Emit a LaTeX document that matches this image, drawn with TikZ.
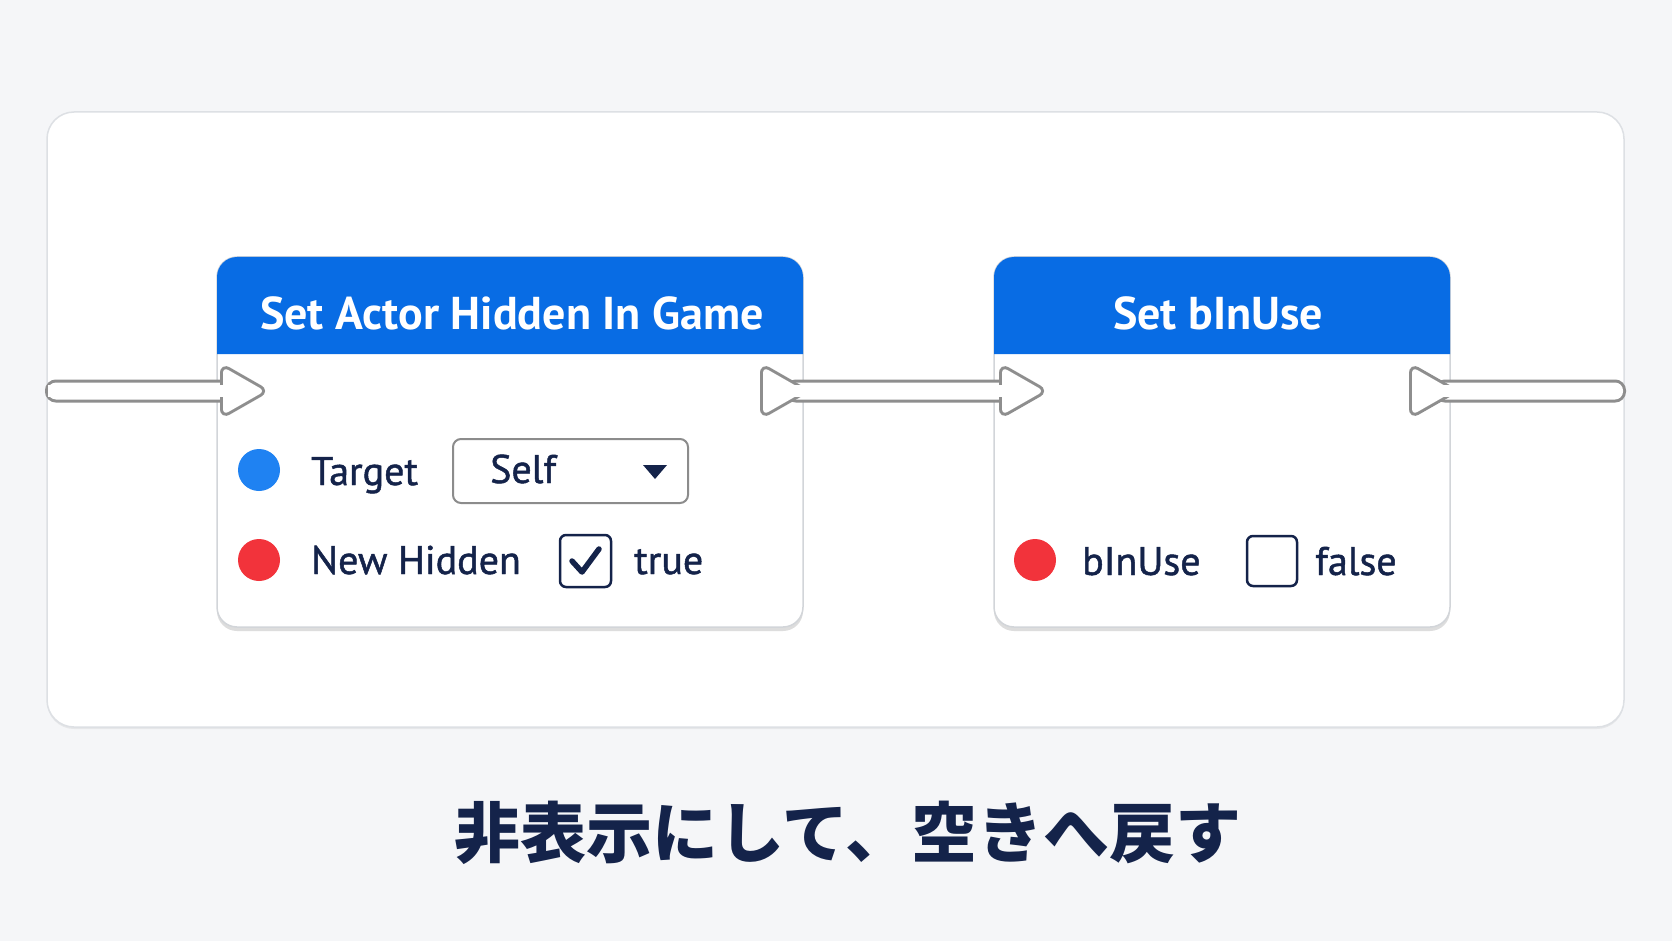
\documentclass[tikz,border=0pt]{standalone}
\usepackage{fontspec}
\setmainfont{PT Sans}
\newfontfamily\cjk{Noto Sans CJK JP}
\newfontfamily\lblfont{PT Sans}[FakeBold=1.2]
\usetikzlibrary{shadows,calc}
\definecolor{bg}{HTML}{F5F6F8}
\definecolor{panelline}{HTML}{DDE0E4}
\definecolor{nodeline}{HTML}{D2D5D9}
\definecolor{hdrblue}{HTML}{086CE4}
\definecolor{navy}{HTML}{14234A}
\definecolor{dotblue}{HTML}{1F82F2}
\definecolor{dotred}{HTML}{F2333B}
\definecolor{pingray}{HTML}{8E8E8E}
\definecolor{ddline}{HTML}{8C8C8C}
\begin{document}
\begin{tikzpicture}[x=1pt,y=-1pt,
  txt/.style={inner sep=0pt, anchor=base west, text=navy, font=\lblfont\fontsize{40}{44}\selectfont},
  ttl/.style={inner sep=0pt, anchor=base, text=white, font=\fontsize{46}{50}\selectfont\bfseries},
  nodebody/.style={draw=nodeline, line width=1.5pt, fill=white, rounded corners=20pt,
     drop shadow={shadow xshift=0pt, shadow yshift=-4pt, opacity=0.22, fill=black!60}},
  pinout/.style={draw=pingray, line width=6pt, rounded corners=6pt},
  pinfill/.style={fill=white, rounded corners=6pt},
  tubeout/.style={draw=pingray, line width=6pt, rounded corners=8pt},
  tubefill/.style={fill=white, rounded corners=8pt},
  dot/.style={circle, inner sep=0pt, minimum size=42pt},
  chk/.style={draw=navy, line width=2.5pt, rounded corners=6pt, fill=white}
]
\useasboundingbox[fill=bg] (0,0) rectangle (1672,941);

% outer panel
\path[draw=panelline, line width=1.5pt, fill=white, rounded corners=27pt,
  drop shadow={shadow xshift=0pt, shadow yshift=-2pt, opacity=0.06, fill=black}] (47,112) rectangle (1624,727);

% node 1
\path[nodebody] (217,257) rectangle (803,627);
\fill[hdrblue] (217,354) [rounded corners=20pt] -- (217,257) -- (803,257) [sharp corners] -- (803,354) -- cycle;
\node[ttl] (t1) at (512,329) {Set Actor Hidden In Game};

% node 2
\path[nodebody] (994,257) rectangle (1450,627);
\fill[hdrblue] (994,354) [rounded corners=20pt] -- (994,257) -- (1450,257) [sharp corners] -- (1450,354) -- cycle;
\node[ttl] (t2) at (1218,329) {Set bInUse};

% exec pins and wires
\coordinate (src) at (48,391);
\coordinate (n1in) at (223,391);
\coordinate (n1out) at (763,391);
\coordinate (n2in) at (1002,391);
\coordinate (n2out) at (1412,391);
\coordinate (sink) at (1623,391);

\foreach \s in {tubeout,tubefill}{
  \path[\s] ($(src)+(0,-8.5)$) rectangle ($(n1in)+(15,8.5)$);
  \path[\s] ($(n1out)+(25,-8.5)$) rectangle ($(n2in)+(15,8.5)$);
  \path[\s] ($(n2out)+(25,-8.5)$) rectangle ($(sink)+(0,8.5)$);
}
\foreach \s in {pinout,pinfill}{
  \path[\s] ($(n1in)+(0,-24)$) -- ++(42,24) -- ++(-42,24) -- cycle;
  \path[\s] ($(n1out)+(0,-24)$) -- ++(42,24) -- ++(-42,24) -- cycle;
  \path[\s] ($(n2in)+(0,-24)$) -- ++(42,24) -- ++(-42,24) -- cycle;
  \path[\s] ($(n2out)+(0,-24)$) -- ++(42,24) -- ++(-42,24) -- cycle;
}
% refill tube interiors (union)
\fill[white] ($(src)+(0,-6)$) rectangle ($(n1in)+(15,6)$);
\fill[white] ($(n1out)+(25,-6)$) rectangle ($(n2in)+(15,6)$);
\fill[white] ($(n2out)+(25,-6)$) rectangle ($(sink)+(-3,6)$);

% node 1 rows
\node[dot, fill=dotblue] (d1) at (259,470) {};
\node[txt] (l1) at (311,485) {Target};
\path[draw=ddline, line width=2pt, rounded corners=8pt, fill=white] (453,439) rectangle (688,503);
\node[txt] (self) at (490,483) {Self};
\fill[navy] (643,465) -- (667,465) -- (655,479) -- cycle;

\node[dot, fill=dotred] (d2) at (259,560) {};
\node[txt] (l2) at (311,574) {New Hidden};
\path[chk] (560,535) rectangle (611,587);
\draw[navy, line width=5.5pt, line cap=round, line join=round] (572,561) -- (582,572) -- (599,549);
\node[txt] (v2) at (634,574) {true};

% node 2 row
\node[dot, fill=dotred] (d3) at (1035,560) {};
\node[txt] (l3) at (1082,575) {bInUse};
\path[chk] (1247,536) rectangle (1297,586);
\node[txt] (v3) at (1315,575) {false};

% caption
\node[inner sep=0pt, text=navy, font=\cjk\bfseries\fontsize{66}{70}\selectfont] (cap) at (848,833) {非表示にして、空きへ戻す};
\end{tikzpicture}
\end{document}
